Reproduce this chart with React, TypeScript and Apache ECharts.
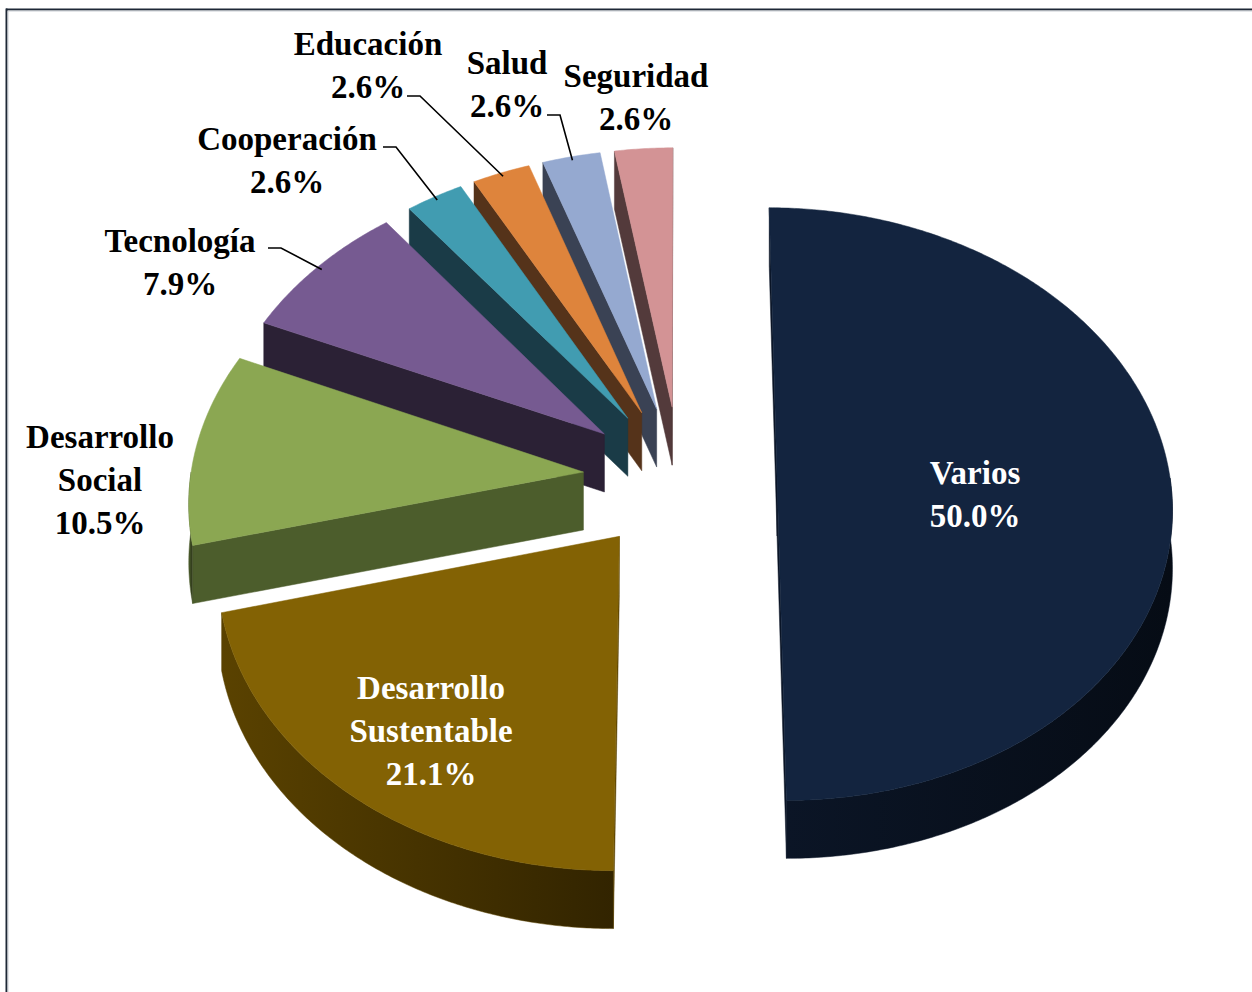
import React, { useEffect, useRef } from "react";
import * as echarts from "echarts";

// ---- data ----
const categories = [
  "Varios",
  "Desarrollo Sustentable",
  "Desarrollo Social",
  "Tecnología",
  "Cooperación",
  "Educación",
  "Salud",
  "Seguridad",
];
const values = [19, 8, 4, 3, 1, 1, 1, 1];

// ---- styles / layout ----
const topColors = ["#13243f", "#836204", "#8ba752", "#765a91", "#419cb1", "#de843c", "#95a9d0", "#d39395"];
const sideColors = ["#0b1526", "#5a4200", "#4c5d2c", "#2b2135", "#1a3b47", "#55331a", "#3a4254", "#533a3b"];
const labelInside = [true, true, false, false, false, false, false, false];
const labelCenters = [[975, 494], [431, 731], [100, 480], [180, 262], [287, 160], [368, 65], [507, 84], [636, 97]];
const leaderStarts: (number[] | null)[] = [null, null, null, [268, 248], [383, 147], [407, 96], [547, 115], null];

const CX = 680;
const CY = 478;
const RX = 393;
const RY = 294;
const PERSP = 0.088;
const EXPLODE = 0.247;
const DEPTH = 58;
const FONT = 'bold 33px "Liberation Serif", "Times New Roman", serif';

const total = values.reduce((a, b) => a + b, 0);
const startAngles: number[] = [];
const endAngles: number[] = [];
{
  let acc = 0;
  values.forEach((v) => {
    startAngles.push((acc / total) * 360);
    acc += v;
    endAngles.push((acc / total) * 360);
  });
}
const midAngles = values.map((_, i) => (startAngles[i] + endAngles[i]) / 2);
const rad = (d: number) => (d * Math.PI) / 180;

function darken(hex: string, f: number): string {
  const n = parseInt(hex.slice(1), 16);
  const r = Math.round(((n >> 16) & 255) * (1 - f));
  const g = Math.round(((n >> 8) & 255) * (1 - f));
  const b = Math.round((n & 255) * (1 - f));
  return `rgb(${r},${g},${b})`;
}

function proj(u: number, v: number, z: number): number[] {
  const w = 1 / (1 + PERSP * v);
  return [CX + RX * u * w, CY - RY * v * w + z];
}
function pt(i: number, phi: number, r: number, z: number): number[] {
  const m = rad(midAngles[i]);
  const au = EXPLODE * Math.sin(m);
  const av = EXPLODE * Math.cos(m);
  return proj(au + r * Math.sin(rad(phi)), av + r * Math.cos(rad(phi)), z);
}
function arc(i: number, a: number, b: number, z: number): number[][] {
  const pts: number[][] = [];
  const n = Math.max(2, Math.ceil((b - a) / 0.5));
  for (let k = 0; k <= n; k++) pts.push(pt(i, a + ((b - a) * k) / n, 1, z));
  return pts;
}
function area(p: number[][]): number {
  let s = 0;
  for (let k = 0; k < p.length; k++) {
    const q = p[(k + 1) % p.length];
    s += p[k][0] * q[1] - q[0] * p[k][1];
  }
  return s;
}

const drawOrder = values
  .map((_, i) => i)
  .sort((a, b) => Math.cos(rad(midAngles[b])) - Math.cos(rad(midAngles[a])));

function renderItem(params: any, api: any) {
  const i = api.value(1) as number;
  const a = startAngles[i];
  const b = endAngles[i];
  const side = sideColors[i];
  const children: any[] = [];

  // radial faces
  const faces = [
    { phi: a, visibleSign: -1 },
    { phi: b, visibleSign: 1 },
  ];
  faces.forEach((f) => {
    const quad = [pt(i, f.phi, 0, 0), pt(i, f.phi, 1, 0), pt(i, f.phi, 1, DEPTH), pt(i, f.phi, 0, DEPTH)];
    if (area(quad) * f.visibleSign > 0) {
      children.push({
        type: "polygon",
        shape: { points: quad },
        style: { fill: side, stroke: side, lineWidth: 0.5 },
      });
    }
  });

  // outer curved side
  const s = Math.max(a, 90);
  const e = Math.min(b, 270);
  if (e > s) {
    const topArc = arc(i, s, e, 0);
    const botArc = arc(i, s, e, DEPTH).reverse();
    children.push({
      type: "polygon",
      shape: { points: topArc.concat(botArc) },
      style: {
        fill: new echarts.graphic.LinearGradient(0, 0, 1, 0, [
          { offset: 0, color: side },
          { offset: 1, color: darken(side, 0.45) },
        ]),
        stroke: side,
        lineWidth: 0.5,
      },
    });
  }

  // top face
  const top = [pt(i, 0, 0, 0)].concat(arc(i, a, b, 0));
  children.push({
    type: "polygon",
    shape: { points: top },
    style: { fill: topColors[i], stroke: topColors[i], lineWidth: 0.5 },
  });

  // leader line
  const ls = leaderStarts[i];
  if (ls) {
    const end = pt(i, midAngles[i], 0.985, 0);
    children.push({
      type: "polyline",
      shape: { points: [ls, [ls[0] + 13, ls[1]], end] },
      style: { stroke: "#000", lineWidth: 1.6, fill: null },
    });
  }

  // label
  const pct = ((values[i] / total) * 100).toFixed(1) + "%";
  const name = categories[i].replace(" ", "\n");
  children.push({
    type: "text",
    z2: 100,
    style: {
      text: name + "\n" + pct,
      x: labelCenters[i][0],
      y: labelCenters[i][1],
      align: "center",
      verticalAlign: "middle",
      font: FONT,
      lineHeight: 43,
      fill: labelInside[i] ? "#ffffff" : "#000000",
    },
  });

  return { type: "group", children };
}

export default function App() {
  const ref = useRef<HTMLDivElement>(null);
  useEffect(() => {
    document.body.style.margin = "0";
    if (!ref.current) return;
    const chart = echarts.init(ref.current, null, { renderer: "svg" });
    chart.setOption({
      animation: false,
      backgroundColor: "#ffffff",
      graphic: [
        { type: "line", shape: { x1: 6, y1: 9.5, x2: 1252, y2: 9.5 }, style: { stroke: "#1e2836", lineWidth: 2 } },
        { type: "line", shape: { x1: 7, y1: 11, x2: 1252, y2: 11 }, style: { stroke: "#c9cdd3", lineWidth: 1 } },
        { type: "line", shape: { x1: 6.5, y1: 8.5, x2: 6.5, y2: 992 }, style: { stroke: "#1e2836", lineWidth: 2 } },
        { type: "line", shape: { x1: 8, y1: 11, x2: 8, y2: 992 }, style: { stroke: "#c9cdd3", lineWidth: 1 } },
      ],
      series: [
        {
          type: "custom",
          coordinateSystem: "none",
          renderItem,
          data: drawOrder.map((i) => ({ name: categories[i], value: [values[i], i] })),
        },
      ],
    });
    return () => chart.dispose();
  }, []);
  return <div ref={ref} style={{ width: 1252, height: 992 }} />;
}
